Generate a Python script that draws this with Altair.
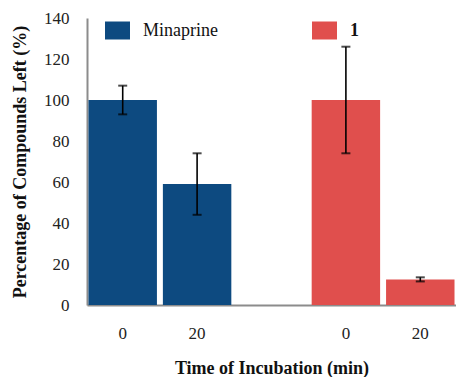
import altair as alt
import pandas as pd

# ---- data ----
compounds = ["Minaprine", "Minaprine", "1", "1"]
times = ["0", "20", "0", "20"]
values = [100, 59, 100, 12.5]
errors = [7, 15, 26, 1]
x_domain = ["0_Minaprine", "20_Minaprine", "_gap", "0_1", "20_1"]

BLUE = "#0d4a80"
RED = "#e04f4d"
FONT = "Liberation Serif, Times New Roman, serif"

df = pd.DataFrame({"compound": compounds, "time": times, "val": values, "err": errors})
df["key"] = df["time"] + "_" + df["compound"]
df["lo"] = df["val"] - df["err"]
df["hi"] = df["val"] + df["err"]

x_axis = alt.Axis(
    title="Time of Incubation (min)", labelAngle=0,
    labelExpr="split(datum.value, '_')[0]", ticks=False, labelPadding=20,
    domainColor="#8c8c8c", domainWidth=2, labelFont=FONT, labelFontSize=17,
    labelColor="#222222", titleFont=FONT, titleFontSize=18, titleFontWeight="bold",
    titlePadding=18, titleColor="#111111",
)
y_axis = alt.Axis(
    title="Percentage of Compounds Left (%)", values=[0, 20, 40, 60, 80, 100, 120, 140],
    grid=False, ticks=False, labelPadding=18, domainColor="#8c8c8c", domainWidth=2,
    labelFont=FONT, labelFontSize=17, labelColor="#222222", titleFont=FONT,
    titleFontSize=18, titleFontWeight="bold", titlePadding=14, titleColor="#111111",
)
x_scale = alt.Scale(domain=x_domain, paddingInner=0.08, paddingOuter=0.02)
y_scale = alt.Scale(domain=[0, 140], nice=False)

def X():
    return alt.X("key:N", scale=x_scale, axis=x_axis)

def legend(lx, bold):
    return alt.Legend(
        title=None, orient="none", legendX=lx, legendY=0,
        symbolType="M-1,-0.72H1V0.72H-1Z", symbolSize=625, symbolStrokeWidth=0,
        symbolOpacity=1, labelFont=FONT, labelFontSize=18, labelOffset=13,
        labelColor="#111111", labelFontWeight="bold" if bold else "normal",
    )

base = alt.Chart(df)

bars_m = base.transform_filter(alt.datum.compound == "Minaprine").mark_bar(opacity=1).encode(
    x=X(),
    y=alt.Y("val:Q", scale=y_scale, axis=y_axis),
    color=alt.Color("compound:N", scale=alt.Scale(domain=["Minaprine"], range=[BLUE]),
                    legend=legend(18, False)),
)
bars_c = base.transform_filter(alt.datum.compound == "1").mark_bar(opacity=1).encode(
    x=X(),
    y=alt.Y("val:Q", scale=y_scale, axis=y_axis),
    color=alt.Color("compound:N", scale=alt.Scale(domain=["1"], range=[RED]),
                    legend=legend(225, True)),
)
rules = base.mark_rule(color="black", strokeWidth=1.6).encode(
    x=X(),
    y=alt.Y("lo:Q", scale=y_scale, axis=y_axis),
    y2="hi:Q",
)
caps = base.transform_fold(["lo", "hi"], as_=["bound", "bval"]).mark_tick(
    color="black", size=9, thickness=2
).encode(
    x=X(),
    y=alt.Y("bval:Q", scale=y_scale, axis=y_axis),
)

chart = alt.layer(bars_m, bars_c, rules, caps).resolve_scale(color="independent").properties(
    width=369, height=287,
    padding={"left": 87, "top": 18, "right": 0, "bottom": 72},
    autosize=alt.AutoSizeParams(type="none"),
    background="white",
).configure_view(strokeWidth=0)

chart.save("out.html", embed_options={"renderer": "svg", "actions": False})
